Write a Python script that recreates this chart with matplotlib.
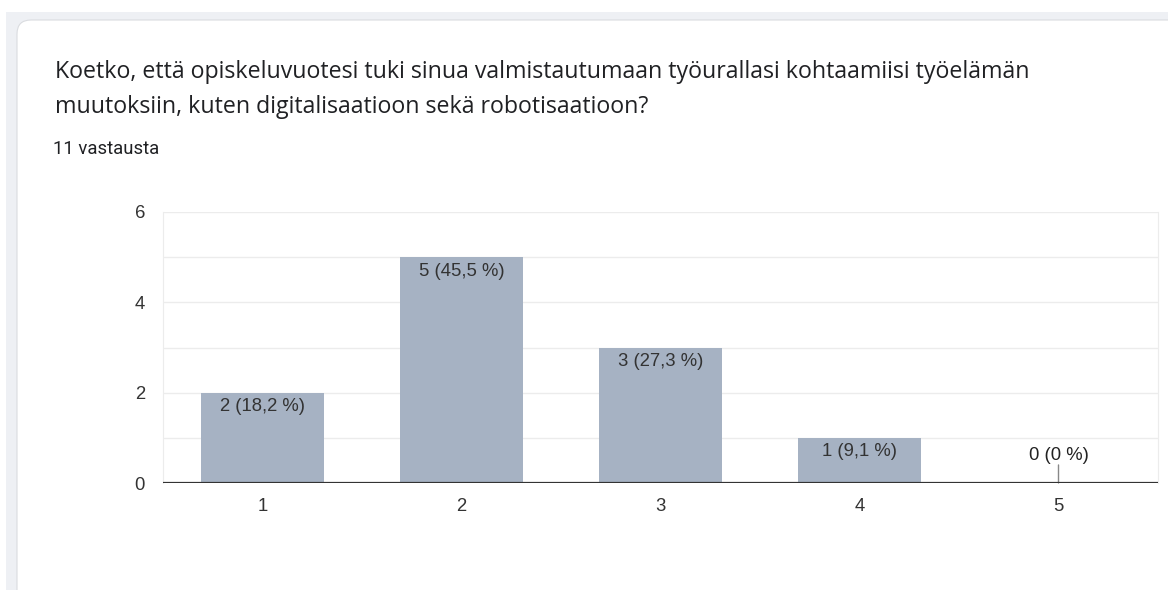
import matplotlib
matplotlib.use("Agg")
import matplotlib.pyplot as plt
from matplotlib.patches import FancyBboxPatch, Rectangle

categories = ["1", "2", "3", "4", "5"]
counts = [2, 5, 3, 1, 0]
labels = ["2 (18,2 %)", "5 (45,5 %)", "3 (27,3 %)", "1 (9,1 %)", "0 (0 %)"]
title_lines = ["Koetko, että opiskeluvuotesi tuki sinua valmistautumaan työurallasi kohtaamiisi työelämän",
               "muutoksiin, kuten digitalisaatioon sekä robotisaatioon?"]
subtitle = "11 vastausta"
yticks = [0, 2, 4, 6]

W, H = 1168, 590
fig = plt.figure(figsize=(W / 100, H / 100), dpi=100)
fig.patch.set_facecolor("white")

def px(x, y):
    return x / W, 1 - y / H

# background gray region
fig.patches.append(Rectangle((6 / W, 0), (W - 6) / W, (H - 12) / H,
                             transform=fig.transFigure, facecolor="#eef0f4", edgecolor="none", zorder=0))
# card
card = FancyBboxPatch((17 / W, -0.1), (W + 40) / W, (H - 20) / H + 0.1,
                      boxstyle="round,pad=0,rounding_size=0.012",
                      transform=fig.transFigure, facecolor="white",
                      edgecolor="#dadce0", linewidth=0.8, zorder=1, mutation_aspect=W / H)
fig.patches.append(card)

title_font = ["Open Sans", "DejaVu Sans"]
fig.text(*px(55, 72), title_lines[0], fontsize=16.7, family=title_font, color="#202124",
         va="center", ha="left", zorder=3)
fig.text(*px(55, 107), title_lines[1], fontsize=16.7, family=title_font, color="#202124",
         va="center", ha="left", zorder=3)
fig.text(*px(53, 149), subtitle, fontsize=13.3, family=["Roboto", "DejaVu Sans"], color="#202124",
         va="center", ha="left", zorder=3)

left, right, top, bottom = 163, 1158, 212, 483
ax = fig.add_axes([left / W, 1 - bottom / H, (right - left) / W, (bottom - top) / H], zorder=4)
ax.set_facecolor("none")
x = list(range(len(categories)))
ax.bar(x, counts, width=0.62, color="#a6b2c3", zorder=3)
ax.set_xlim(-0.5, 4.5)
ax.set_ylim(0, 6)
for yy in range(1, 7):
    ax.axhline(yy, color="#ececec", linewidth=1, zorder=1)
ax.axhline(0, color="#333333", linewidth=1.6, zorder=5)
for s in ["top", "bottom"]:
    ax.spines[s].set_visible(False)
ax.spines["left"].set_color("#ececec")
ax.spines["right"].set_color("#ececec")
ax.set_yticks(yticks)
ax.set_xticks(x)
ax.set_xticklabels(categories)
ax.tick_params(length=0, labelsize=13.3, labelcolor="#333333", pad=11)
ax.tick_params(axis="y", pad=13)
for lbl in ax.get_xticklabels() + ax.get_yticklabels():
    lbl.set_family(["Liberation Sans", "DejaVu Sans"])

for xi, c, lab in zip(x, counts, labels):
    if c > 0:
        ax.annotate(lab, (xi, c), xytext=(0, -4), textcoords="offset points",
                    ha="center", va="top", fontsize=13.3, color="#333333",
                    family=["Liberation Sans", "DejaVu Sans"], zorder=6)
    else:
        ax.annotate("", (xi, 0), xytext=(0, 13), textcoords="offset points",
                    arrowprops=dict(arrowstyle="-", color="#888888", lw=1, shrinkA=0, shrinkB=0))
        ax.annotate(lab, (xi, 0), xytext=(0, 14), textcoords="offset points",
                    ha="center", va="bottom", fontsize=13.3, color="#222222",
                    family=["Liberation Sans", "DejaVu Sans"], zorder=6)

fig.savefig("out.png", dpi=100, facecolor=fig.get_facecolor())
